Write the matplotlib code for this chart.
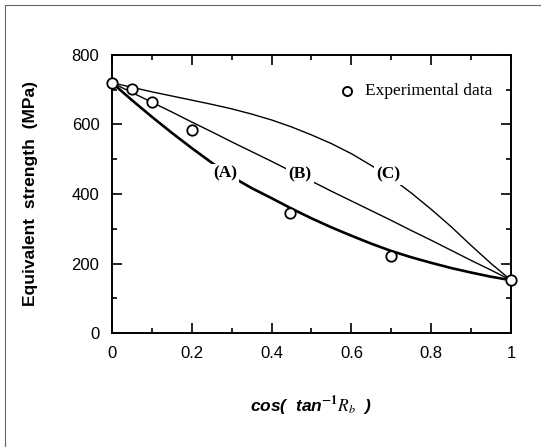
import matplotlib.pyplot as plt
import numpy as np
from matplotlib.ticker import MultipleLocator, FuncFormatter
from matplotlib.lines import Line2D

plt.rcParams['font.family'] = ['Liberation Sans', 'DejaVu Sans']
plt.rcParams['mathtext.fontset'] = 'stix'

# ── data ─────────────────────────────────────────────────────────
exp_x = [0.0, 0.05, 0.10, 0.20, 0.445, 0.70, 1.0]
exp_y = [720, 703, 665, 583, 346, 221, 153]

curve_x = [0.0, 0.05, 0.10, 0.15, 0.20, 0.25, 0.30, 0.35, 0.40, 0.45, 0.50,
           0.55, 0.60, 0.65, 0.70, 0.75, 0.80, 0.85, 0.90, 0.95, 1.0]
curve_a = [720, 670, 622, 576, 532, 490, 450, 417, 388, 358, 330,
           304, 280, 257, 236, 218, 202, 187, 174, 162, 152]
curve_b = [720, 692, 664, 636, 607, 579, 550, 522, 494, 465, 437,
           408, 380, 352, 324, 295, 267, 238, 209, 181, 152]
curve_c = [720, 707, 694, 682, 670, 658, 645, 630, 613, 593, 570,
           545, 516, 482, 446, 403, 356, 306, 252, 200, 152]

curve_labels = ["(A)", "(B)", "(C)"]
label_pos = [(0.283, 458), (0.471, 455), (0.692, 455)]
# ─────────────────────────────────────────────────────────────────

fig = plt.figure(figsize=(5.41, 4.47), dpi=100)
ax = fig.add_axes([0.207, 0.255, 0.7375, 0.622])

ax.plot(curve_x, curve_a, color='black', lw=1.9, zorder=2)
ax.plot(curve_x, curve_b, color='black', lw=1.0, zorder=2)
ax.plot(curve_x, curve_c, color='black', lw=1.0, zorder=2)

ax.plot(exp_x, exp_y, 'o', ms=7.5, mfc='white', mec='black', mew=1.3,
        clip_on=False, zorder=4)

for lab, (lx, ly) in zip(curve_labels, label_pos):
    ax.text(lx, ly, lab, family='Liberation Serif', fontweight='bold',
            fontsize=12.5, ha='center', va='center', zorder=5,
            bbox=dict(facecolor='white', edgecolor='none', pad=1.5))

# legend
ax.plot([0.59], [695], 'o', ms=6.5, mfc='white', mec='black', mew=1.4)
ax.text(0.635, 695, "Experimental data", family='Liberation Serif',
        fontsize=12.5, va='center', ha='left')

ax.set_xlim(0, 1)
ax.set_ylim(0, 800)
ax.xaxis.set_major_locator(MultipleLocator(0.2))
ax.xaxis.set_minor_locator(MultipleLocator(0.1))
ax.yaxis.set_major_locator(MultipleLocator(200))
ax.yaxis.set_minor_locator(MultipleLocator(100))
ax.xaxis.set_major_formatter(FuncFormatter(lambda v, p: "%g" % round(v, 1)))
ax.tick_params(which='both', direction='in', top=True, right=True,
               labelsize=12, width=1.2)
ax.tick_params(which='major', length=7, pad=9)
ax.tick_params(which='minor', length=3.5)
for s in ax.spines.values():
    s.set_linewidth(1.4)

ax.set_ylabel("Equivalent  strength  (MPa)", fontsize=12.5, fontweight='bold',
              labelpad=24)
ax.set_xlabel(r"cos(  tan$^{\mathbf{-1}}$$R_b$  )", fontsize=12.5,
              fontweight='bold', style='italic', labelpad=24)

# scanned page frame
fig.add_artist(Line2D([0.009, 1.0], [0.989, 0.989], color='#666666', lw=0.8,
                      transform=fig.transFigure))
fig.add_artist(Line2D([0.009, 0.009], [0.0, 0.989], color='#666666', lw=0.8,
                      transform=fig.transFigure))

fig.savefig("out.png", dpi=100)
